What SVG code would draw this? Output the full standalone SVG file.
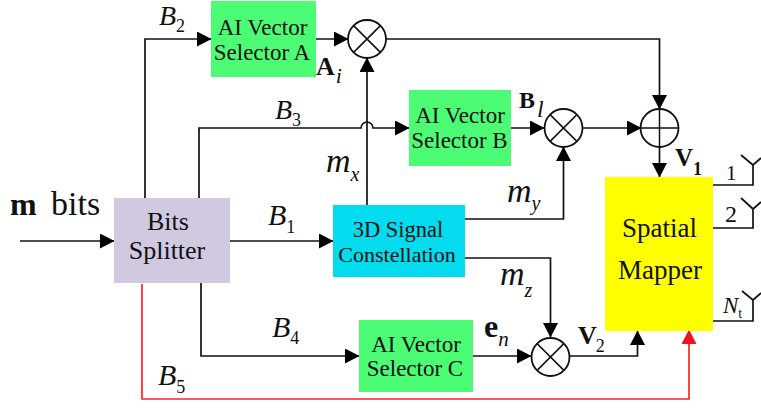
<svg xmlns="http://www.w3.org/2000/svg" width="761" height="408" viewBox="0 0 761 408" font-family="'Liberation Serif','Times New Roman',serif">
<style>
text{font-family:"Liberation Serif","Times New Roman",serif;fill:#111}
.l{font-size:23px;text-anchor:middle}
.v{font-size:30px;font-style:italic}
.s{font-size:18px;font-style:normal}
.m{font-size:34px;font-style:italic}
.i{font-style:italic;font-weight:normal}
.b{font-weight:bold}
.w{fill:none;stroke:#111;stroke-width:1.7}
.r{fill:none;stroke:#f22;stroke-width:1.7}
.c{fill:#fff;stroke:#111;stroke-width:1.8}
.x{stroke:#111;stroke-width:1.5}
</style>
<defs>
<marker id="a" markerUnits="userSpaceOnUse" markerWidth="15" markerHeight="15" refX="14" refY="7.5" orient="auto"><path d="M0 0L14.500 7.500L0 15Z" fill="#000"/></marker>
<marker id="ar" markerUnits="userSpaceOnUse" markerWidth="15" markerHeight="15" refX="14" refY="7.500" orient="auto"><path d="M0 0L14.500 7.500L0 15Z" fill="#f01020"/></marker>
</defs>
<g id="connectors">
<path class="w" marker-end="url(#a)" d="M20 241H114"/>
<path class="w" marker-end="url(#a)" d="M145 198V39H211"/>
<path class="w" marker-end="url(#a)" d="M199 198V128H361a6 6 0 0 1 12 0H409"/>
<path class="w" marker-end="url(#a)" d="M229 241H333"/>
<path class="w" marker-end="url(#a)" d="M201 282V356H359"/>
<path class="r" marker-end="url(#ar)" d="M142 284V399H689V330"/>
<path class="w" marker-end="url(#a)" d="M315 39H348"/>
<path class="w" marker-end="url(#a)" d="M367 205V58"/>
<path class="w" marker-end="url(#a)" d="M386 39H659.500V109"/>
<path class="w" marker-end="url(#a)" d="M510 128H544"/>
<path class="w" marker-end="url(#a)" d="M582 128H641"/>
<path class="w" marker-end="url(#a)" d="M464 219H563.500V147"/>
<path class="w" marker-end="url(#a)" d="M464 258H550.500V337"/>
<path class="w" marker-end="url(#a)" d="M473 356H531"/>
<path class="w" marker-end="url(#a)" d="M570 356H637.500V331"/>
<path class="w" marker-end="url(#a)" d="M659.500 147V177"/>
<path class="w" d="M713 185H753V165M753 165L741 155M753 165L761 158"/>
<path class="w" d="M713 228H753V209M753 209L741 198M753 209L761 202"/>
<path class="w" d="M713 321H753V300M753 300L742 291M753 300L761 293"/>
</g>
<g id="node-splitter"><rect x="114" y="198" width="116" height="85" fill="#d0c9df"/><text x="168" y="230" font-size="26" text-anchor="middle">Bits</text><text x="167" y="259" font-size="26" text-anchor="middle">Splitter</text></g>
<g id="node-selector-a"><rect x="211" y="1" width="105" height="76" fill="#4bfc74"/><text class="l" x="262.500" y="35">AI Vector</text><text class="l" x="262" y="60">Selector A</text></g>
<g id="node-selector-b"><rect x="409" y="90" width="102" height="76" fill="#4bfc74"/><text class="l" x="460" y="123">AI Vector</text><text class="l" x="459.500" y="148">Selector B</text></g>
<g id="node-selector-c"><rect x="359" y="320" width="114" height="72" fill="#4bfc74"/><text class="l" x="416" y="352">AI Vector</text><text class="l" x="415" y="376">Selector C</text></g>
<g id="node-constellation"><rect x="333" y="205" width="132" height="72" fill="#03dcee"/><text x="398" y="237" font-size="22.500" text-anchor="middle">3D Signal</text><text x="397" y="262" font-size="22" text-anchor="middle">Constellation</text></g>
<g id="node-mapper"><rect x="605" y="177" width="108" height="154" fill="#ff0"/><text x="659.500" y="237" font-size="27" text-anchor="middle">Spatial</text><text x="660" y="279" font-size="27" text-anchor="middle">Mapper</text></g>
<g id="node-mult-a"><circle class="c" cx="367" cy="39" r="19"/><path class="x" d="M353.600 25.600L380.400 52.400M380.400 25.600L353.600 52.400"/></g>
<g id="node-mult-b"><circle class="c" cx="563.500" cy="128" r="19"/><path class="x" d="M550.100 114.600L576.900 141.400M576.900 114.600L550.100 141.400"/></g>
<g id="node-mult-c"><circle class="c" cx="550.500" cy="357" r="19"/><path class="x" d="M537.100 343.600L563.900 370.400M563.900 343.600L537.100 370.400"/></g>
<g id="node-adder"><circle class="c" cx="659.500" cy="128" r="19"/><path class="x" d="M640.500 128H678.500M659.500 109V147"/></g>
<g id="labels">
<text x="10" y="215" font-size="32" class="b">m<tspan x="51" font-size="34" font-weight="normal">bits</tspan></text>
<text x="159" y="25" font-size="28" font-style="italic">B<tspan class="s" dy="7">2</tspan></text>
<text class="v" x="275" y="119" style="font-size:28px">B<tspan class="s" dy="7">3</tspan></text>
<text class="v" x="268" y="225">B<tspan class="s" dy="8">1</tspan></text>
<text class="v" x="272" y="337">B<tspan class="s" dy="7">4</tspan></text>
<text class="v" x="158" y="385">B<tspan class="s" dy="8">5</tspan></text>
<text x="316" y="75" font-size="26" class="b">A<tspan class="i" font-size="22" dy="8" dx="1">i</tspan></text>
<text x="519" y="108" font-size="24" class="b">B<tspan class="i" font-size="24" dy="9" dx="2">l</tspan></text>
<text x="675" y="166" font-size="25" class="b">V<tspan font-size="18" dy="9">1</tspan></text>
<text x="578" y="344" font-size="26" class="b">V<tspan font-size="18" font-weight="normal" dy="8" dx="-1">2</tspan></text>
<text x="484" y="337" font-size="32" class="b">e<tspan class="i" font-size="21" dy="9">n</tspan></text>
<text class="m" x="326" y="172">m<tspan font-size="20" dy="9">x</tspan></text>
<text class="m" x="507" y="202">m<tspan font-size="20" dy="8">y</tspan></text>
<text class="m" x="500" y="285">m<tspan font-size="20" dy="12">z</tspan></text>
<text x="726" y="180" font-size="21">1</text>
<text x="725" y="222" font-size="24">2</text>
<text x="723" y="313" font-size="23" class="i">N<tspan font-size="14" font-style="normal" dy="5">t</tspan></text>
</g>
</svg>
